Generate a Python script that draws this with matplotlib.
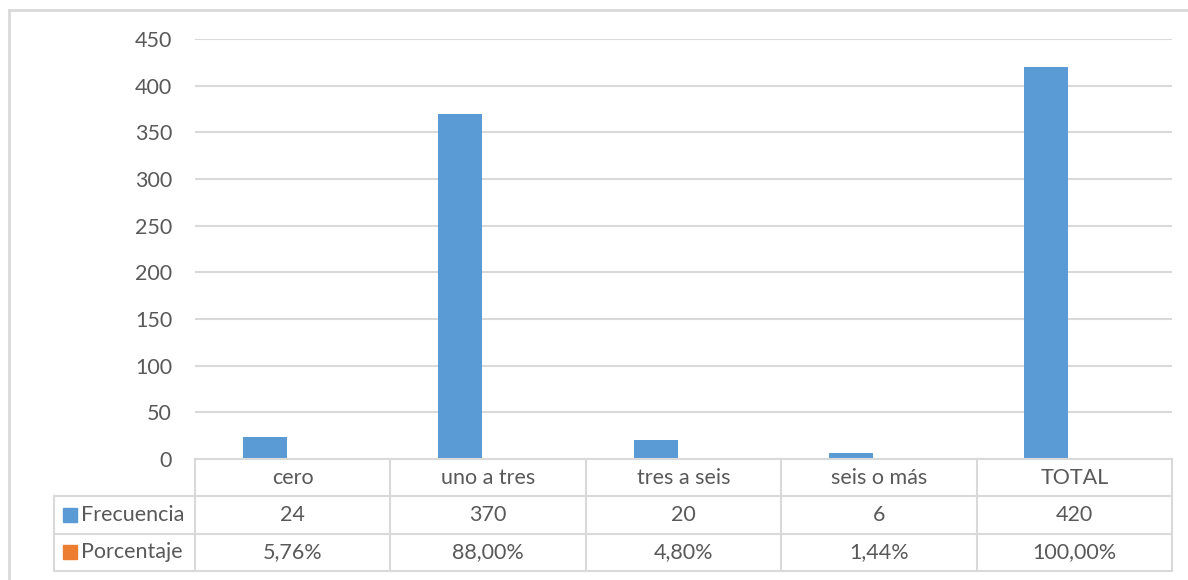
import matplotlib
matplotlib.use("Agg")
import matplotlib.pyplot as plt
import numpy as np

plt.rcParams["font.family"] = ["Lato", "DejaVu Sans"]

categories = ["cero", "uno a tres", "tres a seis", "seis o más", "TOTAL"]
frecuencia = [24, 370, 20, 6, 420]
porcentaje = [0.0576, 0.88, 0.048, 0.0144, 1.0]
porcentaje_txt = ["5,76%", "88,00%", "4,80%", "1,44%", "100,00%"]
series_names = ["Frecuencia", "Porcentaje"]

blue = "#5B9BD5"
orange = "#ED7D31"
grid = "#D9D9D9"
txt = "#595959"
fs = 15.5

W, H = 1188, 580
fig = plt.figure(figsize=(W / 100, H / 100), dpi=100)

# pixel layout of plot area
x0, x1 = 195, 1172
y_top, y_bot = 39, 459
ax = fig.add_axes([x0 / W, 1 - y_bot / H, (x1 - x0) / W, (y_bot - y_top) / H])

x = np.arange(len(categories))
bw = 0.225
ax.bar(x - 0.143, frecuencia, bw, color=blue, zorder=3)
ax.bar(x + 0.143, porcentaje, bw, color=orange, zorder=3)

ax.set_xlim(-0.5, len(categories) - 0.5)
ax.set_ylim(0, 450)
ax.set_yticks(np.arange(0, 451, 50))
ax.set_xticks([])
ax.tick_params(axis="y", length=0, pad=16.5, labelsize=fs, labelcolor=txt)
ax.grid(axis="y", color=grid, lw=1.5, zorder=0)
for s in ax.spines.values():
    s.set_visible(False)

# data table under the axis
t_top, t_bot = 459, 571
tab = fig.add_axes([x0 / W, 1 - t_bot / H, (x1 - x0) / W, (t_bot - t_top) / H])
tab.set_xlim(ax.get_xlim())
tab.set_ylim(3, 0)
tab.axis("off")

px_per_x = (x1 - x0) / len(categories)
label_left = -0.5 - (x0 - 54) / px_per_x
lw = 1.5
n = len(categories)

# horizontal lines
tab.plot([-0.5, n - 0.5], [0, 0], color=grid, lw=lw, clip_on=False)
for r in [1, 2, 3]:
    tab.plot([label_left, n - 0.5], [r, r], color=grid, lw=lw, clip_on=False)
# vertical lines
tab.plot([label_left, label_left], [1, 3], color=grid, lw=lw, clip_on=False)
for c in range(n + 1):
    tab.plot([c - 0.5, c - 0.5], [0, 3], color=grid, lw=lw, clip_on=False)

for i, c in enumerate(categories):
    tab.text(i, 0.5, c, ha="center", va="center", fontsize=fs, color=txt)
    tab.text(i, 1.5, str(frecuencia[i]), ha="center", va="center", fontsize=fs, color=txt)
    tab.text(i, 2.5, porcentaje_txt[i], ha="center", va="center", fontsize=fs, color=txt)

sq_x = label_left + (70 - 54) / px_per_x
tx_x = label_left + (81 - 54) / px_per_x
for r, (name, col) in enumerate(zip(series_names, [blue, orange])):
    tab.plot([sq_x], [1.5 + r], marker="s", markersize=10, color=col, clip_on=False)
    tab.text(tx_x, 1.5 + r, name, ha="left", va="center", fontsize=fs, color=txt)

# outer chart border (left and top visible)
fig.add_artist(plt.Line2D([9 / W, 9 / W], [0, 1 - 10 / H], color=grid, lw=2))
fig.add_artist(plt.Line2D([9 / W, 1], [1 - 10 / H, 1 - 10 / H], color=grid, lw=2))

fig.savefig("out.png", dpi=100, facecolor="white")
